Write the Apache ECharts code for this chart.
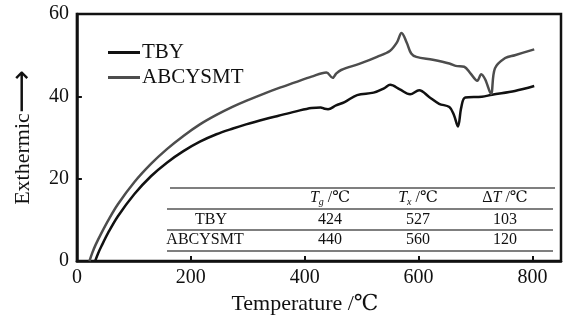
<!DOCTYPE html>
<html><head><meta charset="utf-8">
<script src="https://cdn.jsdelivr.net/npm/echarts@6/dist/echarts.min.js"></script>
<style>html,body{margin:0;padding:0;background:#fff}#c{width:573px;height:320px}</style>
</head><body><div id="c"></div>
<script>
var xTicks = [0, 200, 400, 600, 800];
var yTicks = [0, 20, 40, 60];
var tbyTemp = [32,37,43,55,72,101,130,158,187,216,245,274,297,331,354,383,412,428,435,441,455,470,492,521,540,550,567,585,601,619,636,654,662,669,675,682,711,729,769,803];
var tbyVal  = [0,1.8,3.6,6.9,10.9,16.3,20.6,23.9,26.7,29.0,30.8,32.2,33.2,34.5,35.3,36.3,37.2,37.3,37.0,36.9,37.8,38.6,40.3,40.9,42.0,42.8,41.7,40.5,41.5,39.8,38.2,37.4,35.5,32.7,37.4,39.7,39.9,40.4,41.3,42.5];
var abcTemp = [22,27,33,43,55,72,101,130,158,187,216,245,274,297,331,354,383,412,438,449,455,464,498,527,550,562,570,579,587,596,625,654,665,680,691,703,710,717,727,734,752,769,803];
var abcVal  = [0,2.0,4.0,6.8,9.9,13.8,19.2,23.6,27.2,30.4,33.2,35.5,37.5,38.9,40.8,42.0,43.4,44.8,45.8,44.5,45.5,46.4,48.0,49.6,51.1,53.1,55.4,53.1,50.4,49.6,48.9,48.0,47.4,47.2,45.6,43.8,45.4,44.1,40.6,46.8,49.3,50.0,51.4];
var seriesNames = ['TBY', 'ABCYSMT'];
var tableRowNames = ['TBY', 'ABCYSMT'];
var tableTg = ['424', '440'];
var tableTx = ['527', '560'];
var tableDT = ['103', '120'];

function pairs(xs, ys){ return xs.map(function(x,i){return [x, ys[i]];}); }

var serif = '"Liberation Serif","DejaVu Serif",serif';
var chart = echarts.init(document.getElementById('c'));

var graphics = [];
var ruleLines = [[170,555,188],[167,553,209],[167,553,230],[167,553,251]];
ruleLines.forEach(function(r){
  graphics.push({type:'line', silent:true, shape:{x1:r[0],y1:r[2],x2:r[1],y2:r[2]}, style:{stroke:'#555', lineWidth:1.5}});
});
var colX = [208, 330, 418, 505];
var rowY = [198, 219.5, 240];
function txt(x, y, s, rich){
  graphics.push({type:'text', silent:true, x:x, y:y, style:{text:s, font:'16px ' + serif, fill:'#111', align:'center', verticalAlign:'middle', rich: rich}});
}
var hdrRich = {
  i:{fontFamily:serif, fontSize:16, fontStyle:'italic', fill:'#111'},
  s:{fontFamily:serif, fontSize:10, fontStyle:'italic', fill:'#111', padding:[9,0,0,0]},
  n:{fontFamily:serif, fontSize:16, fill:'#111'}
};
txt(colX[1], rowY[0], '{i|T}{s|g}{n| /℃}', hdrRich);
txt(colX[2], rowY[0], '{i|T}{s|x}{n| /℃}', hdrRich);
txt(colX[3], rowY[0], '{n|Δ}{i|T}{n| /℃}', hdrRich);
for (var r = 0; r < 2; r++) {
  txt(colX[0] + (r === 0 ? 3 : -3), rowY[r+1], tableRowNames[r]);
  txt(colX[1], rowY[r+1], tableTg[r]);
  txt(colX[2], rowY[r+1], tableTx[r]);
  txt(colX[3], rowY[r+1], tableDT[r]);
}

chart.setOption({
  animation:false,
  backgroundColor:'#fff',
  grid:{left:68, top:14, right:12, bottom:51, show:true, borderColor:'#111', borderWidth:2.5, backgroundColor:'transparent'},
  legend:{
    left:103, top:37, orient:'vertical', itemWidth:32, itemHeight:3, itemGap:4, icon:'rect',
    data:seriesNames,
    textStyle:{fontFamily:serif, fontSize:21, color:'#111', padding:[0,0,0,-3]}
  },
  xAxis:{
    type:'value', min:0, max:850, interval:200,
    name:'Temperature /℃', nameLocation:'middle', nameGap:26,
    nameTextStyle:{fontFamily:serif, fontSize:22, color:'#111', padding:[0,28,0,0]},
    axisLine:{show:true, lineStyle:{color:'#111', width:2.5}},
    axisTick:{show:true, inside:true, length:5, lineStyle:{color:'#111', width:2}},
    axisLabel:{fontFamily:serif, fontSize:20, color:'#111', margin:7, showMaxLabel:false},
    splitLine:{show:false}
  },
  yAxis:{
    type:'value', min:0, max:60, interval:20,
    name:'{a|Exthermic}{b|⟶}', nameLocation:'middle', nameGap:35,
    nameTextStyle:{fontFamily:serif, fontSize:22, color:'#111',
      rich:{a:{fontFamily:serif, fontSize:22, color:'#111'}, b:{fontFamily:'DejaVu Sans', fontSize:30, color:'#111'}}},
    axisLine:{show:true, lineStyle:{color:'#111', width:2.5}},
    axisTick:{show:true, inside:true, length:5, lineStyle:{color:'#111', width:2}},
    axisLabel:{fontFamily:serif, fontSize:20, color:'#111', margin:8},
    splitLine:{show:false}
  },
  series:[
    {name:seriesNames[0], type:'line', data:pairs(tbyTemp, tbyVal), symbol:'none', smooth:0.35,
     lineStyle:{color:'#111', width:2.5}, itemStyle:{color:'#111'}},
    {name:seriesNames[1], type:'line', data:pairs(abcTemp, abcVal), symbol:'none', smooth:0.35,
     lineStyle:{color:'#4d4d4d', width:2.5}, itemStyle:{color:'#4d4d4d'}}
  ],
  graphic:graphics
});
</script></body></html>
